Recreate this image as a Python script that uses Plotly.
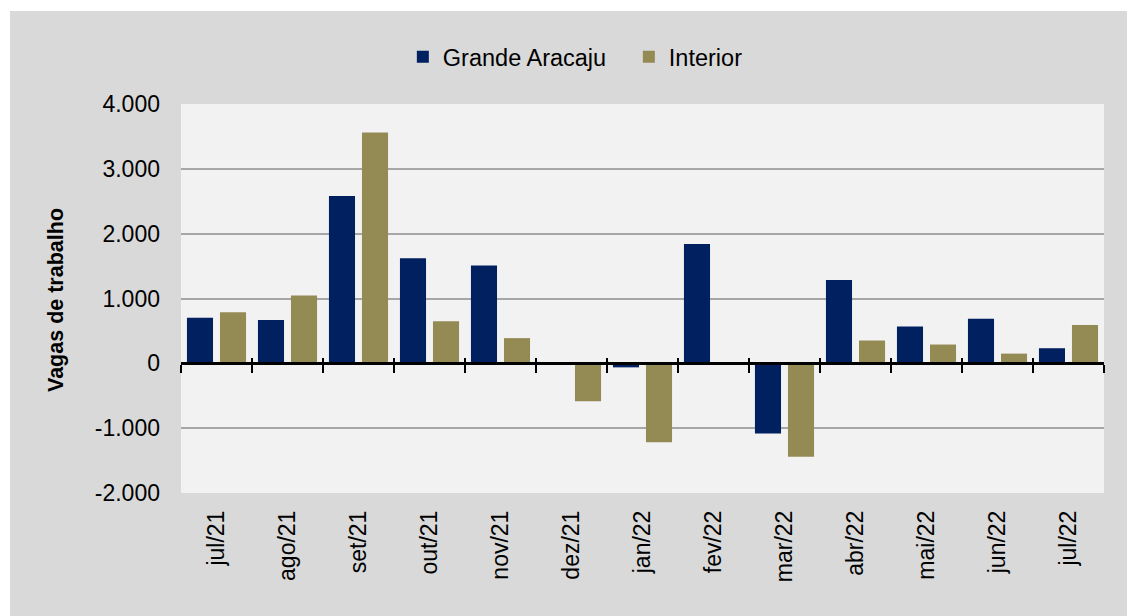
import plotly.graph_objects as go

months = ["jul/21", "ago/21", "set/21", "out/21", "nov/21", "dez/21", "jan/22",
          "fev/22", "mar/22", "abr/22", "mai/22", "jun/22", "jul/22"]
grande_aracaju = [705, 668, 2580, 1622, 1508, 0, -62, 1839, -1083, 1285, 570, 689, 233]
interior = [788, 1047, 3560, 648, 389, -585, -1218, 0, -1440, 352, 290, 150, 591]
y_tickvals = [-2000, -1000, 0, 1000, 2000, 3000, 4000]
y_ticktext = ["-2.000", "-1.000", "0", "1.000", "2.000", "3.000", "4.000"]

FONT = "Liberation Sans, Arial, sans-serif"

# plot area geometry (figure pixels)
L, R, T, B = 173, 39, 96, 131
PW, PH = 1135 - L - R, 616 - T - B


def px_x(x):
    return (x - L) / PW


def px_y(y):
    return (616 - B - y) / PH


fig = go.Figure()
fig.add_trace(go.Bar(name="Grande Aracaju", x=months, y=grande_aracaju,
                     marker=dict(color="#002060", line=dict(width=0))))
fig.add_trace(go.Bar(name="Interior", x=months, y=interior,
                     marker=dict(color="#948A54", line=dict(width=0))))
# invisible helpers for the zero-line axes (crossing tick marks)
for ax in ["x2", "x3"]:
    fig.add_trace(go.Scatter(x=months, y=[None] * len(months), xaxis=ax, yaxis="y",
                             showlegend=False, hoverinfo="skip", mode="markers"))

fig.update_layout(
    width=1135, height=616,
    paper_bgcolor="#d9d9d9", plot_bgcolor="#f2f2f2",
    margin=dict(l=L, r=R, t=T, b=B, autoexpand=False),
    barmode="group", bargap=0.07, bargroupgap=0.21,
    font=dict(family=FONT, size=23, color="#000000"),
    legend=dict(orientation="h", xref="container", yref="container",
                x=0.547, xanchor="center", y=1 - 49 / 616, yanchor="middle",
                font=dict(size=23.5), bgcolor="rgba(0,0,0,0)", itemwidth=30,
                entrywidth=181, tracegroupgap=0),
    xaxis=dict(type="category", range=[-0.5, 12.5], showgrid=False, showline=False,
               ticks="", tickangle=-90, ticklabelstandoff=12,
               tickfont=dict(size=23)),
    xaxis2=dict(type="category", overlaying="x", anchor="free", position=1/3,
                range=[-0.5, 12.5], showgrid=False, showticklabels=False,
                showline=True, linecolor="#000000", linewidth=2.5,
                ticks="outside", tickson="boundaries", ticklen=8, tickwidth=2,
                tickcolor="#000000", side="bottom"),
    xaxis3=dict(type="category", overlaying="x", anchor="free", position=1/3,
                range=[-0.5, 12.5], showgrid=False, showticklabels=False,
                showline=False, ticks="inside", tickson="boundaries", ticklen=5,
                tickwidth=2, tickcolor="#000000", side="bottom"),
    yaxis=dict(range=[-2000, 4000], tickvals=y_tickvals, ticktext=y_ticktext,
               showgrid=True, gridcolor="#a6a6a6", gridwidth=2, zeroline=False,
               showline=False, ticks="", ticklabelstandoff=20,
               tickfont=dict(size=23)),
    shapes=[
        dict(type="rect", xref="paper", yref="paper", x0=px_x(-5), x1=px_x(1140),
             y0=px_y(3), y1=px_y(-5), fillcolor="#ffffff", line=dict(width=0),
             layer="below"),
        dict(type="rect", xref="paper", yref="paper", x0=px_x(-5), x1=px_x(2),
             y0=px_y(620), y1=px_y(-5), fillcolor="#ffffff", line=dict(width=0),
             layer="below"),
    ],
    annotations=[
        dict(text="<b>Vagas de trabalho</b>", xref="paper", yref="paper",
             x=px_x(48), y=px_y(292), xanchor="center",
             yanchor="middle", textangle=-90, showarrow=False,
             font=dict(size=21.5, family=FONT, color="#000000")),
    ],
)

fig.write_html("out.html")
